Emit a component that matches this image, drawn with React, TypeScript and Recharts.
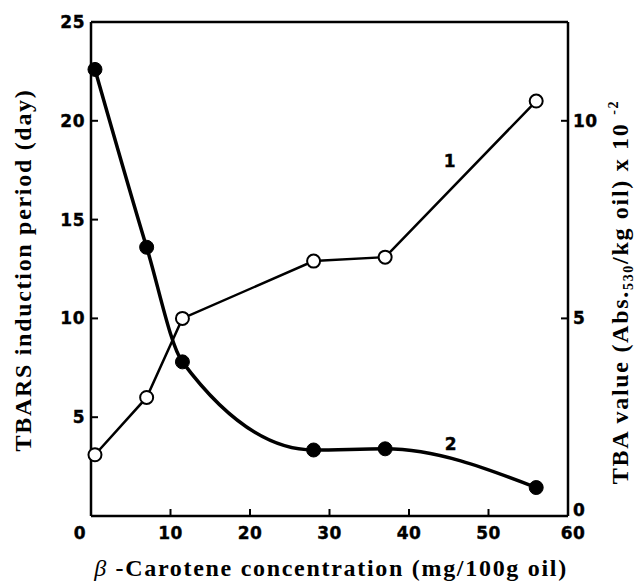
import React from "react";
import { LineChart, Line, XAxis, YAxis, ReferenceLine, Customized } from "recharts";

const concentration = [0.5, 7, 11.5, 28, 37, 56];
const tbarsPeriod = [3.1, 6.0, 10.0, 12.9, 13.1, 21.0];
const tbaValue = [11.3, 6.8, 3.9, 1.67, 1.7, 0.72];
const xTicks = [0, 10, 20, 30, 40, 50, 60];
const leftTicks = [5, 10, 15, 20, 25];
const rightTicks = [0, 5, 10];

const data = concentration.map((c, i) => ({ c, tbars: tbarsPeriod[i], tba: tbaValue[i] }));

const tickFont = {
  fontFamily: "'DejaVu Sans', 'Liberation Sans', sans-serif",
  fontWeight: 700,
  fontSize: 17,
  letterSpacing: 0.5,
  fill: "#000",
  stroke: "#000",
  strokeWidth: 0.4,
};
const titleFont = {
  fontFamily: "'Liberation Serif', 'Times New Roman', serif",
  fontWeight: 700,
  fontSize: 24,
  letterSpacing: 1.7,
  fill: "#000",
};

const XTick = (props: any) => {
  const { x, y, payload } = props;
  const v = payload.value;
  const dx = v === 0 ? -11 : v === 60 ? 5 : 0;
  return (
    <g>
      {v !== 0 && v !== 60 && <line x1={x} x2={x} y1={y} y2={y - 7} stroke="#000" strokeWidth={2} />}
      <text x={x + dx} y={y + 23} textAnchor="middle" style={tickFont}>{v}</text>
    </g>
  );
};

const LeftTick = (props: any) => {
  const { x, y, payload } = props;
  return (
    <g>
      {payload.value !== 25 && <line x1={x} x2={x + 7} y1={y} y2={y} stroke="#000" strokeWidth={2} />}
      <text x={x - 6} y={y + 6} textAnchor="end" style={tickFont}>{payload.value}</text>
    </g>
  );
};

const RightTick = (props: any) => {
  const { x, y, payload } = props;
  const v = payload.value;
  return (
    <g>
      {v !== 0 && <line x1={x} x2={x - 7} y1={y} y2={y} stroke="#000" strokeWidth={2} />}
      <text x={x + 5} y={y + 6 + (v === 0 ? -6 : 0)} textAnchor="start" style={tickFont}>{v}</text>
    </g>
  );
};

const OpenDot = (props: any) => {
  const { cx, cy } = props;
  return <circle cx={cx} cy={cy} r={6.5} fill="#fff" stroke="#000" strokeWidth={2} />;
};
const FilledDot = (props: any) => {
  const { cx, cy } = props;
  return <circle cx={cx} cy={cy} r={7} fill="#000" stroke="#000" strokeWidth={1} />;
};

const Texts = () => (
  <g>
    <text x={331} y={576} textAnchor="middle" style={titleFont}>
      <tspan fontStyle="italic" fontWeight={400}>β</tspan>
      <tspan> -Carotene concentration (mg/100g oil)</tspan>
    </text>
    <text transform="translate(31,270) rotate(-90)" textAnchor="middle" style={titleFont}>
      TBARS induction period (day)
    </text>
    <text transform="translate(628,292) rotate(-90)" textAnchor="middle" style={titleFont}>
      <tspan>TBA value (Abs.</tspan>
      <tspan fontSize={14} dy={5}>530</tspan>
      <tspan dy={-5}>/kg oil) x 10 </tspan>
      <tspan fontSize={14} dy={-10}>-2</tspan>
    </text>
    <text x={450} y={167} textAnchor="middle" style={tickFont}>1</text>
    <text x={451} y={450} textAnchor="middle" style={tickFont}>2</text>
  </g>
);

export default function App() {
  return (
    <div style={{ position: "absolute", left: 0, top: 0, width: 644, height: 586, background: "#fff" }}>
      <LineChart width={644} height={586} data={data} margin={{ top: 22, right: 16, bottom: 30, left: 31 }}>
        <XAxis
          dataKey="c"
          type="number"
          domain={[0, 60]}
          ticks={xTicks}
          height={40}
          tickSize={0}
          tickMargin={0}
          tickLine={false}
          axisLine={{ stroke: "#000", strokeWidth: 2.5 }}
          tick={<XTick />}
          interval={0}
        />
        <YAxis
          yAxisId="left"
          orientation="left"
          domain={[0, 25]}
          ticks={leftTicks}
          width={60}
          tickSize={0}
          tickMargin={0}
          tickLine={false}
          axisLine={{ stroke: "#000", strokeWidth: 2.5 }}
          tick={<LeftTick />}
          interval={0}
        />
        <YAxis
          yAxisId="right"
          orientation="right"
          domain={[0, 12.5]}
          ticks={rightTicks}
          width={60}
          tickSize={0}
          tickMargin={0}
          tickLine={false}
          axisLine={{ stroke: "#000", strokeWidth: 2.5 }}
          tick={<RightTick />}
          interval={0}
        />
        <ReferenceLine yAxisId="left" y={25} stroke="#000" strokeWidth={2.5} />
        <Line
          yAxisId="left"
          dataKey="tbars"
          type="linear"
          stroke="#000"
          strokeWidth={2.5}
          dot={<OpenDot />}
          activeDot={false}
          isAnimationActive={false}
        />
        <Line
          yAxisId="right"
          dataKey="tba"
          type="monotone"
          stroke="#000"
          strokeWidth={3.5}
          dot={<FilledDot />}
          activeDot={false}
          isAnimationActive={false}
        />
        <Customized component={Texts} />
      </LineChart>
    </div>
  );
}
